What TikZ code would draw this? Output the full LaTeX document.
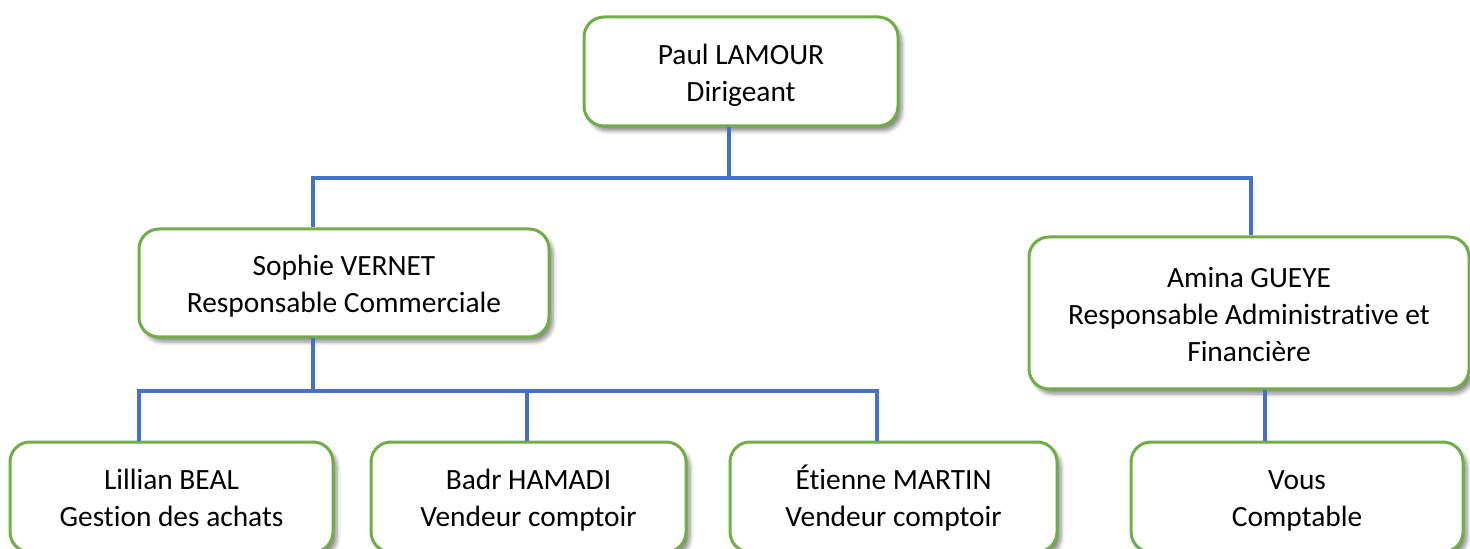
\documentclass[tikz,border=0pt]{standalone}
\usepackage{fontspec}
\setmainfont{Carlito}[Ligatures=NoCommon]
\usetikzlibrary{shadows.blur}
\newlength{\du}
\setlength{\du}{0.5pt}
\definecolor{boxgreen}{RGB}{112,173,71}
\definecolor{linkblue}{RGB}{68,114,196}
% first line strut, a little taller so the text sits a bit low in its box
\newcommand{\firststrut}{\rule[-5.55pt]{0pt}{22.5pt}}
\tikzset{
  orgbox/.style={draw=boxgreen, line width=3\du, fill=white, rounded corners=20\du,
    align=center, inner sep=0pt, font=\fontsize{14.7}{18.5}\selectfont,
    blur shadow={shadow xshift=4\du, shadow yshift=-5\du, shadow blur steps=6, shadow opacity=45}},
  link/.style={draw=linkblue, line width=4\du}
}
\begin{document}
\begin{tikzpicture}
\useasboundingbox (0,0) rectangle (1470\du,-549\du);
% boxes
\node[orgbox, minimum width=314\du, minimum height=109\du] (paul) at (741\du,-71.5\du) {\firststrut Paul LAMOUR\\\strut Dirigeant};
\node[orgbox, minimum width=410\du, minimum height=108\du] (sophie) at (344\du,-283\du) {\firststrut Sophie VERNET\\\strut Responsable Commerciale};
\node[orgbox, minimum width=440\du, minimum height=152\du] (amina) at (1249\du,-313\du) {\firststrut Amina GUEYE\\\strut Responsable Administrative et\\\strut Financière};
\node[orgbox, minimum width=323\du, minimum height=110\du] (lillian) at (171.5\du,-497\du) {\firststrut Lillian BEAL\\\strut Gestion des achats};
\node[orgbox, minimum width=315\du, minimum height=110\du] (badr) at (528.5\du,-497\du) {\firststrut Badr HAMADI\\\strut Vendeur comptoir};
\node[orgbox, minimum width=327\du, minimum height=110\du] (etienne) at (893.5\du,-497\du) {\firststrut Étienne MARTIN\\\strut Vendeur comptoir};
\node[orgbox, minimum width=332\du, minimum height=110\du] (vous) at (1297\du,-497\du) {\firststrut Vous\\\strut Comptable};
% connectors
\coordinate (topbus) at (0,-178\du);
\coordinate (lowbus) at (0,-391\du);
\draw[link] ([xshift=-12\du]paul.south) -- ([xshift=-12\du]paul.south |- topbus);
\draw[link] ([xshift=-31\du]sophie.north) |- ([xshift=2\du]amina.north |- topbus) -- ([xshift=2\du]amina.north);
\draw[link] ([xshift=-31\du]sophie.south) -- ([xshift=-31\du]sophie.south |- lowbus);
\draw[link] ([xshift=-32.5\du]lillian.north) |- ([xshift=-16.5\du]etienne.north |- lowbus) -- ([xshift=-16.5\du]etienne.north);
\draw[link] ([xshift=-1.5\du]badr.north) -- ([xshift=-1.5\du]badr.north |- lowbus);
\draw[link] ([xshift=16\du]amina.south) -- ([xshift=16\du]amina.south |- vous.north);
\end{tikzpicture}
\end{document}
